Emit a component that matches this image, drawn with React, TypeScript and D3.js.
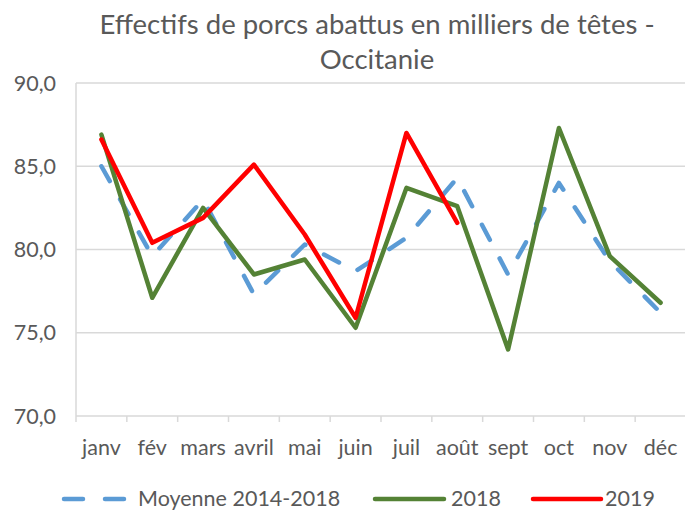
import React from "react";
import * as d3 from "d3";

const months = ["janv", "fév", "mars", "avril", "mai", "juin", "juil", "août", "sept", "oct", "nov", "déc"];
const moyenne = [85.0, 79.6, 83.0, 77.3, 80.3, 78.7, 80.7, 84.3, 78.5, 84.0, 79.3, 76.2];
const y2018 = [86.9, 77.1, 82.5, 78.5, 79.4, 75.3, 83.7, 82.6, 74.0, 87.3, 79.6, 76.8];
const y2019 = [86.6, 80.4, 81.9, 85.1, 80.9, 75.9, 87.0, 81.6];
const yTicks = [70, 75, 80, 85, 90];

const W = 685, H = 511;
const left = 76, right = 686, top = 83, bottom = 416;
const font = "Lato, 'Open Sans', sans-serif";
const txt = "#595959";
const fs = 21.5;

export default function App() {
  const x = d3.scaleBand<string>().domain(months).range([left, right]);
  const y = d3.scaleLinear().domain([70, 90]).range([bottom, top]);
  const cx = (i: number) => (x(months[i]) as number) + x.bandwidth() / 2;
  const line = d3.line<number>().x((_, i) => cx(i)).y((d) => y(d));
  const fmt = (v: number) => v.toFixed(1).replace(".", ",");
  const boundaries = d3.range(months.length + 1).map((i) => left + i * x.bandwidth());

  return (
    <svg width={W} height={H} style={{ position: "absolute", left: 0, top: 0, background: "#fff" }}>
      <rect x={0} y={0} width={W} height={H} fill="#fff" />
      <text x={377} y={34} textAnchor="middle" fontFamily={font} fontSize={27.5} fill={txt}>
        Effectifs de porcs abattus en milliers de têtes -
      </text>
      <text x={377} y={69} textAnchor="middle" fontFamily={font} fontSize={27.5} fill={txt}>
        Occitanie
      </text>
      {yTicks.map((t) => (
        <g key={t}>
          <line x1={left} x2={right} y1={y(t)} y2={y(t)} stroke="#d9d9d9" strokeWidth={1.5} />
          <text x={56} y={y(t) + 7.5} textAnchor="end" fontFamily={font} fontSize={fs} fill={txt}>
            {fmt(t)}
          </text>
        </g>
      ))}
      <line x1={left} x2={left} y1={top} y2={bottom} stroke="#d9d9d9" strokeWidth={1.5} />
      {boundaries.map((b, i) => (
        <line key={i} x1={b} x2={b} y1={bottom} y2={bottom + 6} stroke="#d9d9d9" strokeWidth={1.5} />
      ))}
      {months.map((m, i) => (
        <text key={m} x={cx(i)} y={455} textAnchor="middle" fontFamily={font} fontSize={fs} fill={txt}>
          {m}
        </text>
      ))}
      <path d={line(moyenne) || ""} fill="none" stroke="#5B9BD5" strokeWidth={4.5} strokeDasharray="17 21" strokeLinecap="round" strokeLinejoin="round" />
      <path d={line(y2018) || ""} fill="none" stroke="#548235" strokeWidth={4.5} strokeLinecap="round" strokeLinejoin="round" />
      <path d={line(y2019) || ""} fill="none" stroke="#FF0000" strokeWidth={4.5} strokeLinecap="round" strokeLinejoin="round" />
      {/* legend */}
      <line x1={64} x2={126} y1={499} y2={499} stroke="#5B9BD5" strokeWidth={4.5} strokeDasharray="19 22" strokeLinecap="round" />
      <text x={138} y={506} fontFamily={font} fontSize={fs} fill={txt}>Moyenne 2014-2018</text>
      <line x1={375} x2={444} y1={499} y2={499} stroke="#548235" strokeWidth={4.5} strokeLinecap="round" />
      <text x={451} y={506} fontFamily={font} fontSize={fs} fill={txt}>2018</text>
      <line x1={533} x2={601} y1={499} y2={499} stroke="#FF0000" strokeWidth={4.5} strokeLinecap="round" />
      <text x={605} y={506} fontFamily={font} fontSize={fs} fill={txt}>2019</text>
    </svg>
  );
}
